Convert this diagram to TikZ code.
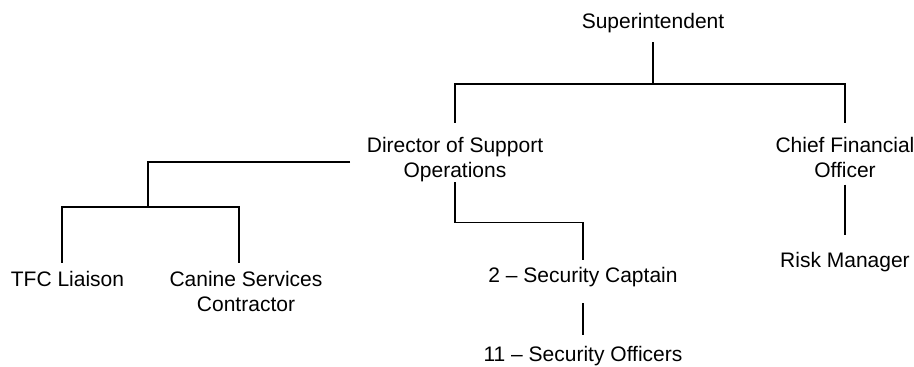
\documentclass[tikz,border=0pt]{standalone}
\usepackage{fontspec}
\setmainfont{Liberation Sans}
\newcommand\orglbl[1]{\begin{tabular}[t]{@{}c@{}}#1\end{tabular}}
\begin{document}
\begin{tikzpicture}[x=1pt,y=-1pt,
  lbl/.style={inner sep=0pt, anchor=base, font=\fontsize{21}{25}\selectfont},
  conn/.style={line width=1.3pt}]
\fill[white] (0,0) rectangle (914,367);
\useasboundingbox (0,0) rectangle (914,367);
% nodes
\node[lbl] (sup)  at (653,28)  {\orglbl{Superintendent}};
\node[lbl] (dir)  at (455,152) {\orglbl{Director of Support\\Operations}};
\node[lbl] (cfo)  at (845,152) {\orglbl{Chief Financial\\Officer}};
\node[lbl] (risk) at (845,267) {\orglbl{Risk Manager}};
\node[lbl] (tfc)  at (67.5,286) {\orglbl{TFC Liaison}};
\node[lbl] (can)  at (246,286) {\orglbl{Canine Services\\Contractor}};
\node[lbl] (cap)  at (583,282) {\orglbl{2 \textendash{} Security Captain}};
\node[lbl] (off)  at (583,361.5) {\orglbl{11 \textendash{} Security Officers}};
% junctions
\coordinate (bus) at (653,84);
\coordinate (j2) at (148,207);
% connectors
\draw[conn, shorten <=6.5pt] (sup.south) -- (bus);
\draw[conn, shorten >=11.5pt] (bus) -| (dir.north);
\draw[conn, shorten >=11.5pt] (bus) -| (cfo.north);
\draw[conn, shorten <=16.5pt] ([yshift=-2.5pt]dir.west) -| (j2);
\draw[conn, shorten >=5.5pt] (j2) -| ([xshift=-5.5pt]tfc.north);
\draw[conn, shorten >=5.5pt] (j2) -| ([xshift=-7pt]can.north);
\draw[conn, shorten <=-2.5pt, shorten >=4.5pt] (dir.south) -- ++(0,37.5) -| (cap.north);
\draw[conn, shorten <=13.5pt, shorten >=9pt] (cap.south) -- (off.north);
\draw[conn, shorten >=14.5pt] (cfo.south) -- (risk.north);
\end{tikzpicture}
\end{document}
